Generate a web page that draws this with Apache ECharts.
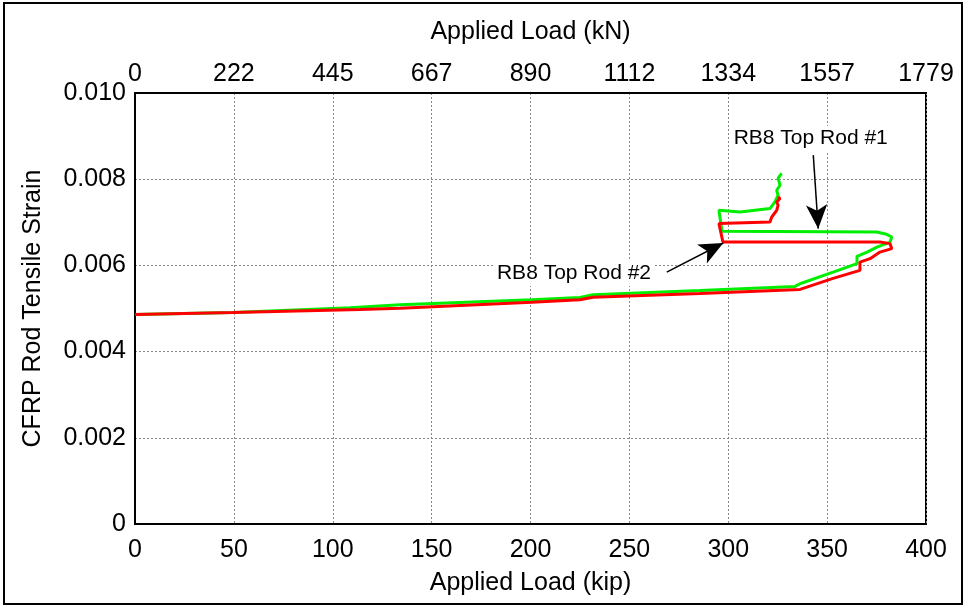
<!DOCTYPE html>
<html>
<head>
<meta charset="utf-8">
<script src="https://cdn.jsdelivr.net/npm/echarts@6/dist/echarts.min.js"></script>
<style>
html,body{margin:0;padding:0;background:#fff;}
#chart{width:965px;height:613px;}
</style>
</head>
<body>
<div id="chart"></div>
<script>
// Tick labels
const kipTicks = [0, 50, 100, 150, 200, 250, 300, 350, 400];
const kNLabels = ["0", "222", "445", "667", "890", "1112", "1334", "1557", "1779"];
const strainTicks = [0, 0.002, 0.004, 0.006, 0.008, 0.010];

// Series: RB8 Top Rod #1 (green) — [load kip, strain]
const rod1Load = [0, 49.6, 108.7, 134.0, 200.6, 225.0, 231.6, 285.7, 333.8, 336.3, 353.0, 365.1, 365.1, 370.2, 375.2, 381.8, 382.7, 380.1, 375.1, 296.8, 295.3, 306.0, 321.1, 323.6, 325.2, 324.5, 326.2, 325.2, 327.0];
const rod1Strain = [0.00486, 0.004907, 0.005016, 0.005086, 0.005202, 0.005256, 0.005319, 0.00542, 0.005512, 0.005574, 0.005844, 0.00604, 0.006209, 0.006309, 0.006426, 0.006542, 0.006658, 0.006721, 0.006774, 0.006791, 0.007279, 0.00724, 0.007319, 0.007472, 0.007628, 0.007744, 0.00786, 0.008023, 0.008133];

// Series: RB8 Top Rod #2 (red)
const rod2Load = [0, 49.6, 113.8, 134.0, 200.6, 225.0, 231.6, 285.7, 336.3, 353.0, 366.6, 366.6, 371.7, 376.7, 382.7, 381.8, 376.7, 297.3, 295.3, 321.1, 322.0, 324.5, 325.2, 324.5, 326.2, 325.2];
const rod2Strain = [0.00486, 0.004907, 0.004977, 0.005007, 0.005147, 0.005202, 0.005263, 0.00535, 0.005442, 0.005698, 0.005884, 0.006077, 0.006156, 0.006309, 0.006388, 0.006505, 0.006542, 0.006542, 0.00697, 0.007007, 0.007123, 0.007279, 0.007395, 0.007472, 0.007551, 0.007588];

// Annotations: label text, label position, arrow start, arrow tip (data units)
const annoText = ["RB8 Top Rod #1", "RB8 Top Rod #2"];
const annoTextAt = [[341.7, 0.008942], [222.0, 0.005814]];
const annoFrom = [[343.0, 0.008558], [268.9, 0.005844]];
const annoTo = [[345.5, 0.006853], [297.5, 0.006519]];

const FONT = "Liberation Sans, Arial, sans-serif";
const zip = (a, b) => a.map((v, i) => [v, b[i]]);

const chart = echarts.init(document.getElementById('chart'));
chart.setOption({
  animation: false,
  backgroundColor: '#fff',
  textStyle: { fontFamily: FONT },
  grid: { left: 135, right: 39, top: 93, bottom: 89, show: true, borderColor: '#000', borderWidth: 2, containLabel: false },
  xAxis: [
    {
      type: 'value', position: 'bottom', min: kipTicks[0], max: kipTicks[kipTicks.length - 1], interval: 50,
      name: 'Applied Load (kip)', nameLocation: 'middle', nameGap: 47,
      nameTextStyle: { fontSize: 25, color: '#000', fontFamily: FONT },
      axisLine: { show: true, lineStyle: { color: '#000', width: 2 } },
      axisTick: { show: false },
      axisLabel: { fontSize: 25, color: '#000', margin: 14, fontFamily: FONT },
      splitLine: { show: true, lineStyle: { color: '#888', type: [2, 2], width: 1 } }
    },
    {
      type: 'value', position: 'top', min: kipTicks[0], max: kipTicks[kipTicks.length - 1], interval: 50,
      name: 'Applied Load (kN)', nameLocation: 'middle', nameGap: 48,
      nameTextStyle: { fontSize: 25, color: '#000', fontFamily: FONT },
      axisLine: { show: true, lineStyle: { color: '#000', width: 2 } },
      axisTick: { show: false },
      axisLabel: { fontSize: 25, color: '#000', margin: 6, fontFamily: FONT,
        formatter: v => kNLabels[Math.round(v / 50)] },
      splitLine: { show: false }
    }
  ],
  yAxis: {
    type: 'value', min: strainTicks[0], max: strainTicks[strainTicks.length - 1], interval: 0.002,
    name: 'CFRP Rod Tensile Strain', nameLocation: 'middle', nameGap: 89,
    nameTextStyle: { fontSize: 25, color: '#000', fontFamily: FONT },
    axisLine: { show: true, lineStyle: { color: '#000', width: 2 } },
    axisTick: { show: false },
    axisLabel: { fontSize: 25, color: '#000', margin: 9, fontFamily: FONT,
      formatter: v => (Math.abs(v) < 1e-12 ? '0' : v.toFixed(3)) },
    splitLine: { show: true, lineStyle: { color: '#888', type: [2, 2], width: 1 } }
  },
  graphic: [
    { type: 'rect', shape: { x: 4, y: 3, width: 958, height: 601 }, style: { fill: 'none', stroke: '#000', lineWidth: 2 }, silent: true }
  ],
  series: [
    {
      name: 'RB8 Top Rod #1', type: 'line', xAxisIndex: 0, data: zip(rod1Load, rod1Strain),
      showSymbol: false, symbol: 'none', lineStyle: { color: '#00ee00', width: 3 }, z: 3
    },
    {
      name: 'RB8 Top Rod #2', type: 'line', xAxisIndex: 0, data: zip(rod2Load, rod2Strain),
      showSymbol: false, symbol: 'none', lineStyle: { color: '#ff0000', width: 3 }, z: 4
    },
    {
      name: 'annotations', type: 'line', xAxisIndex: 0, data: [], z: 5,
      markLine: {
        silent: true, symbol: ['none', 'arrow'], symbolSize: [16, 24], precision: 6,
        label: { show: false },
        lineStyle: { color: '#000', width: 1.5, type: 'solid' },
        itemStyle: { color: '#000' },
        data: annoFrom.map((f, i) => [{ coord: f }, { coord: annoTo[i] }])
      },
      markPoint: {
        silent: true, symbol: 'rect', symbolSize: 0,
        label: { show: true, position: 'inside', fontSize: 21, color: '#000', fontFamily: FONT,
          backgroundColor: '#fff', padding: [2, 3] , formatter: p => p.name },
        data: annoText.map((t, i) => ({ name: t, coord: annoTextAt[i] }))
      }
    }
  ]
});
</script>
</body>
</html>
